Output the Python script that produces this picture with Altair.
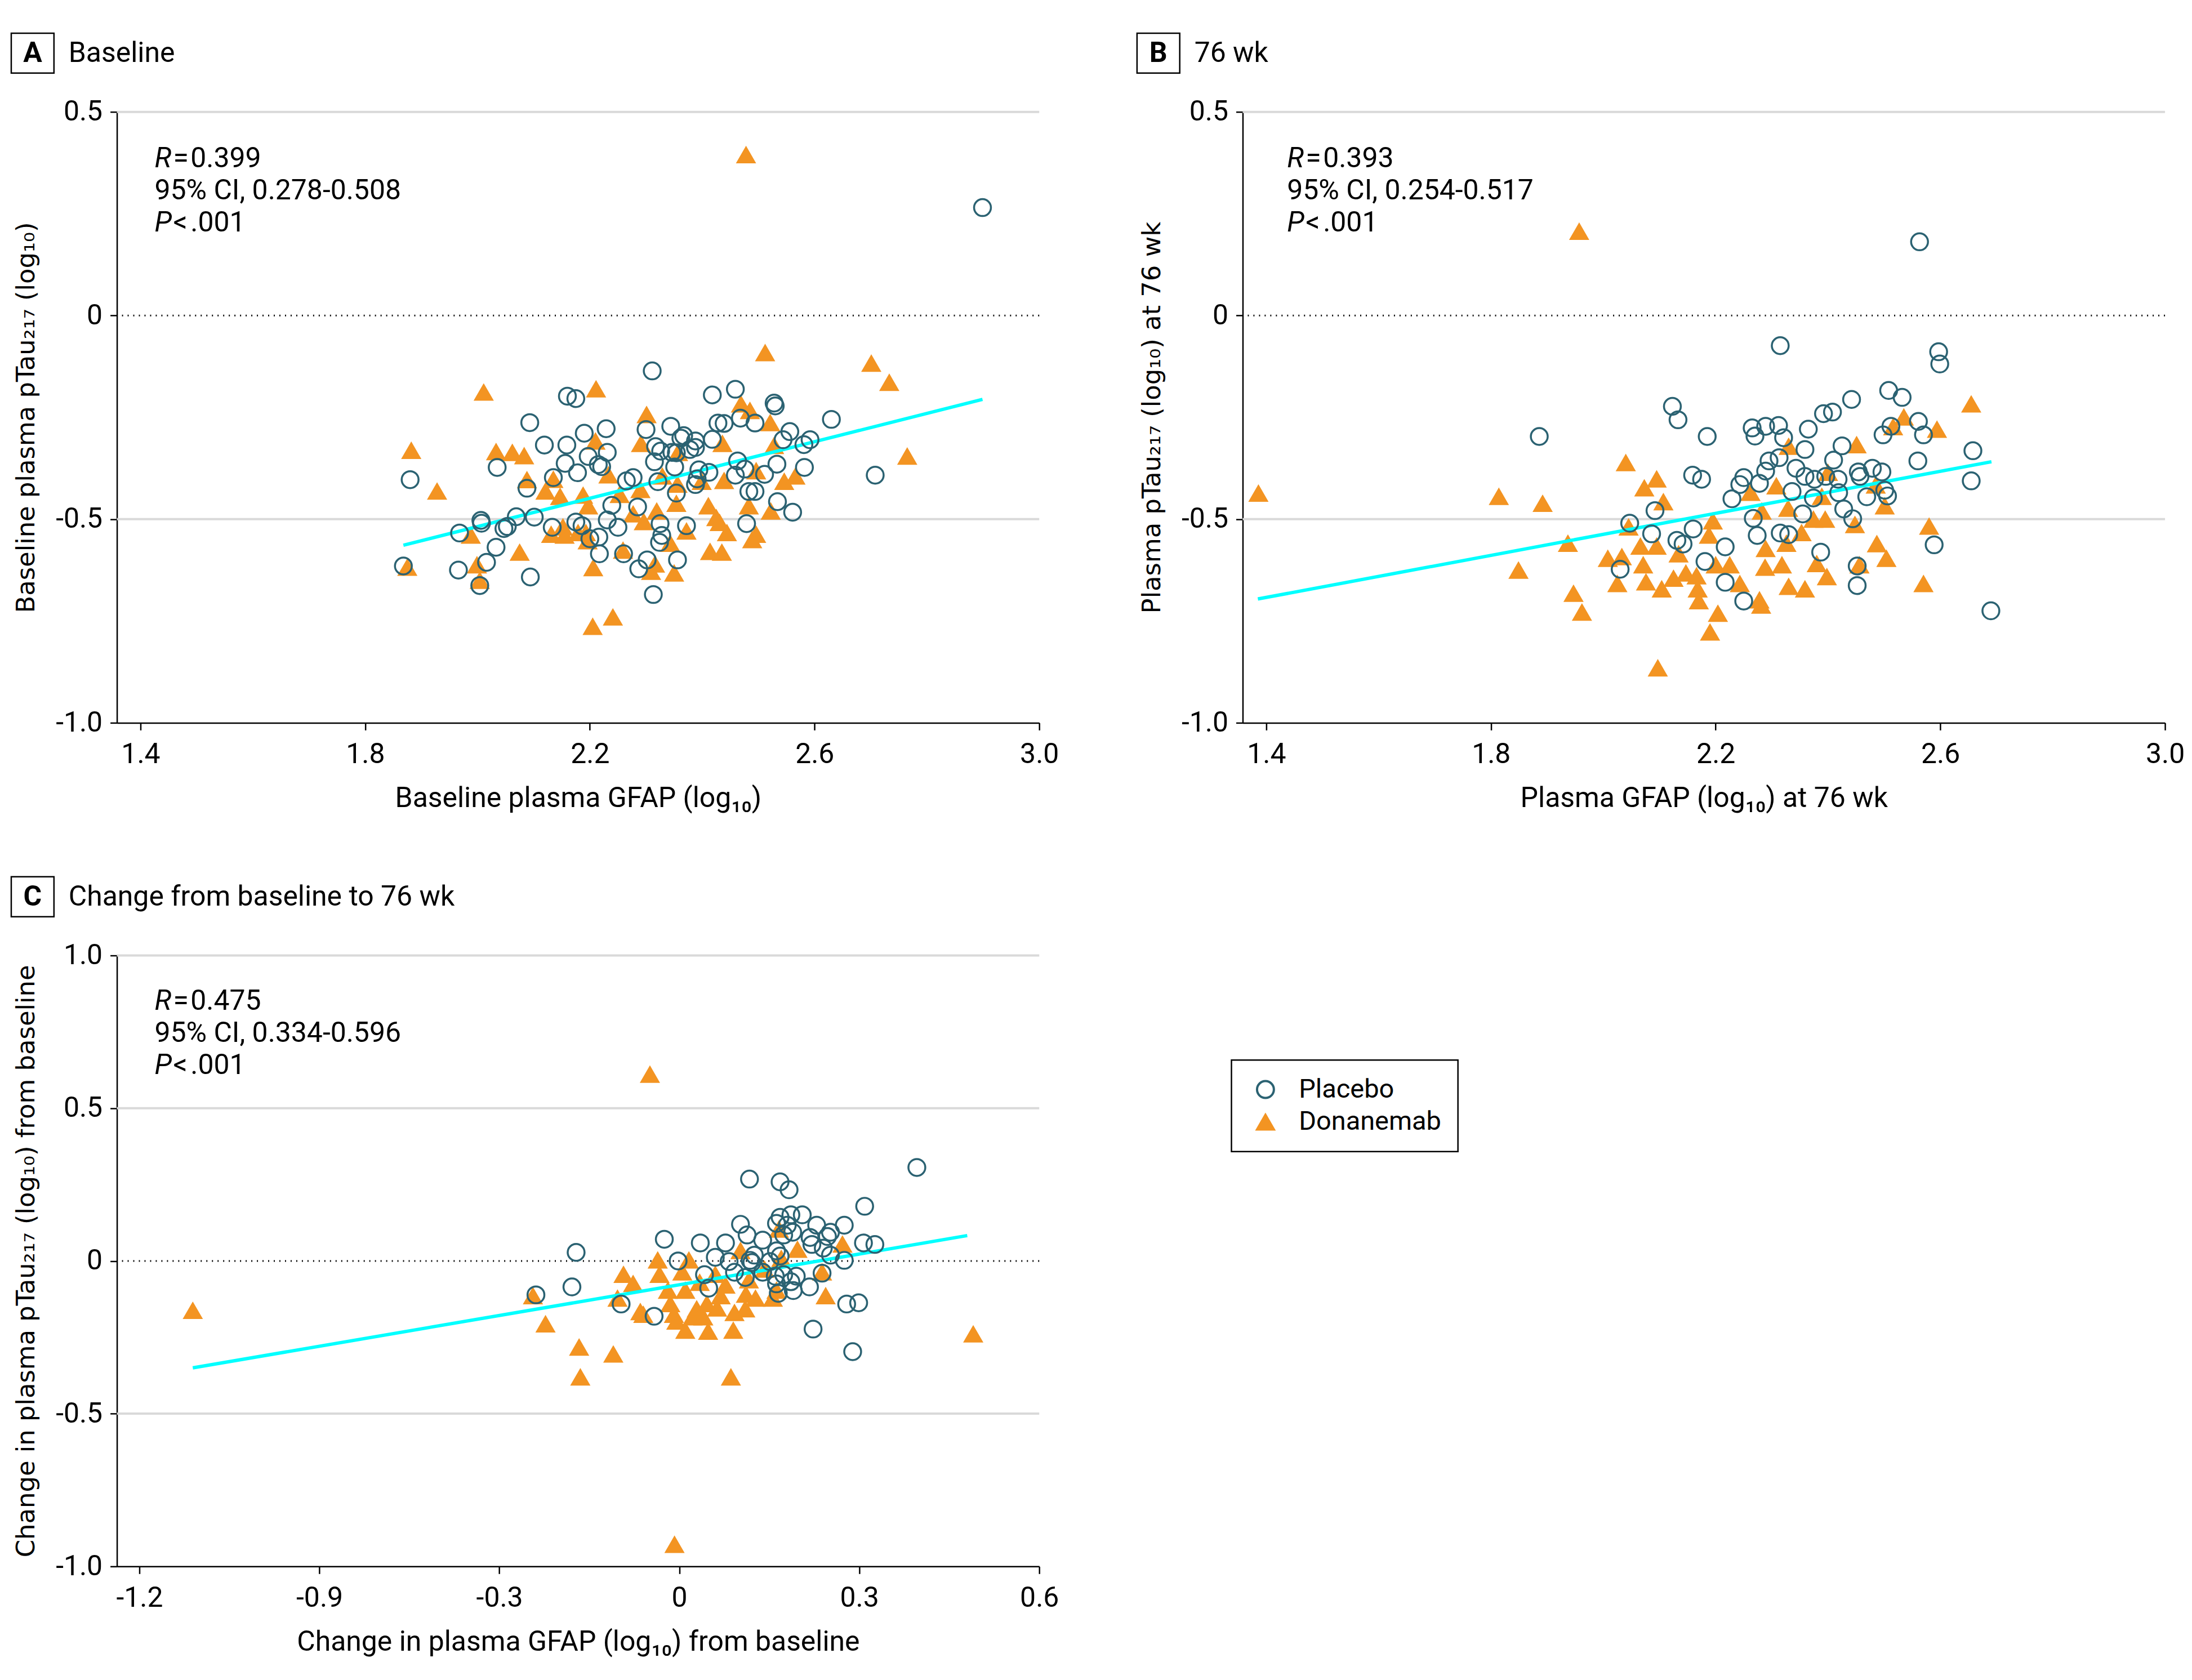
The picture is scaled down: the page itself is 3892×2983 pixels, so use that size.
import altair as alt
import pandas as pd

# ---------------- data ----------------
GROUPS = ["Placebo", "Donanemab"]
TEAL = "#2B6272"
ORANGE = "#F39422"
CYAN = "#00FFFF"
GRID = "#D9D9D9"

# Panel A: baseline
A_PLA_X = [2.899, 2.311, 2.160, 2.175, 2.418, 2.459, 2.528, 2.530, 2.093, 2.630, 2.428, 2.439, 2.468, 2.494,
           2.229, 2.190, 2.300, 2.344, 2.367, 2.362, 2.556, 2.592, 2.581, 2.544, 2.418, 2.388, 2.388, 2.317,
           2.326, 2.346, 2.378, 2.119, 2.159, 2.197, 2.231, 2.315, 2.354, 2.156, 2.215, 2.221, 2.035, 2.463,
           2.533, 2.582, 2.351, 2.394, 2.412, 2.476, 2.511, 2.459, 2.178, 2.135, 2.277, 2.265, 1.880, 2.708,
           2.391, 2.388, 2.321, 2.088, 2.483, 2.494, 2.354, 2.285, 2.239, 2.534, 2.561, 2.069, 2.101, 2.006,
           2.007, 1.968, 2.047, 2.053, 2.133, 2.175, 2.186, 2.231, 2.250, 2.325, 2.372, 2.479, 2.328, 2.324,
           2.216, 2.200, 2.217, 2.033, 2.016, 1.966, 1.868, 2.094, 2.004, 2.260, 2.287, 2.302, 2.356, 2.313]
A_PLA_Y = [0.265, -0.136, -0.198, -0.204, -0.195, -0.181, -0.215, -0.222, -0.263, -0.255, -0.264, -0.265,
           -0.252, -0.264, -0.278, -0.289, -0.280, -0.272, -0.295, -0.301, -0.285, -0.305, -0.317, -0.305,
           -0.304, -0.308, -0.324, -0.322, -0.333, -0.336, -0.329, -0.318, -0.318, -0.346, -0.336, -0.359,
           -0.337, -0.363, -0.366, -0.371, -0.373, -0.357, -0.365, -0.373, -0.372, -0.379, -0.385, -0.377,
           -0.390, -0.392, -0.386, -0.398, -0.398, -0.406, -0.403, -0.392, -0.401, -0.415, -0.408, -0.424,
           -0.432, -0.432, -0.436, -0.470, -0.466, -0.457, -0.483, -0.494, -0.495, -0.503, -0.510, -0.534,
           -0.523, -0.518, -0.520, -0.507, -0.516, -0.502, -0.520, -0.511, -0.516, -0.511, -0.540, -0.557,
           -0.544, -0.548, -0.585, -0.569, -0.606, -0.625, -0.615, -0.642, -0.663, -0.585, -0.622, -0.600,
           -0.600, -0.685]
A_DON_X = [2.478, 2.512, 2.701, 2.733, 2.211, 2.011, 2.765, 1.882, 2.033, 2.062, 2.083, 1.928, 2.301, 2.469,
           2.485, 2.521, 2.291, 2.210, 2.436, 2.528, 2.357, 2.233, 2.088, 2.135, 2.121, 2.147, 2.197, 2.253,
           2.290, 2.329, 2.356, 2.399, 2.439, 2.496, 2.546, 2.566, 2.354, 2.319, 2.411, 2.483, 2.522, 2.425,
           2.431, 2.444, 2.496, 2.489, 2.372, 2.343, 2.296, 2.277, 2.196, 2.193, 2.179, 2.155, 2.131, 1.988,
           2.075, 2.259, 2.414, 2.435, 2.206, 2.316, 2.309, 2.350, 1.999, 2.004, 1.875, 2.205, 2.241, 2.188,
           2.152]
A_DON_Y = [0.394, -0.092, -0.118, -0.165, -0.181, -0.189, -0.346, -0.332, -0.335, -0.337, -0.345, -0.432,
           -0.244, -0.218, -0.234, -0.264, -0.315, -0.309, -0.315, -0.320, -0.337, -0.392, -0.404, -0.403,
           -0.432, -0.445, -0.468, -0.440, -0.428, -0.395, -0.415, -0.408, -0.406, -0.382, -0.408, -0.395,
           -0.462, -0.481, -0.468, -0.468, -0.481, -0.497, -0.509, -0.534, -0.538, -0.551, -0.530, -0.560,
           -0.507, -0.488, -0.554, -0.534, -0.534, -0.540, -0.538, -0.540, -0.582, -0.577, -0.580, -0.582,
           -0.620, -0.611, -0.629, -0.633, -0.613, -0.651, -0.619, -0.764, -0.741, -0.442, -0.520]
A_FIT_X = [1.868, 2.899]
A_FIT_Y = [-0.564, -0.206]
A_STATS = ["0.399", "95% CI, 0.278-0.508", ".001"]

# Panel B: 76 wk
B_PLA_X = [2.563, 2.315, 2.597, 2.599, 1.886, 2.123, 2.133, 2.185, 2.508, 2.532, 2.442, 2.392, 2.408, 2.561,
           2.570, 2.498, 2.512, 2.265, 2.270, 2.289, 2.312, 2.321, 2.365, 2.359, 2.425, 2.658, 2.313, 2.295,
           2.410, 2.560, 2.159, 2.175, 2.250, 2.278, 2.289, 2.343, 2.359, 2.376, 2.396, 2.418, 2.454, 2.479,
           2.496, 2.457, 2.243, 2.655, 2.336, 2.419, 2.501, 2.506, 2.469, 2.229, 2.374, 2.428, 2.092, 2.355,
           2.444, 2.047, 2.267, 2.160, 2.315, 2.330, 2.274, 2.086, 2.131, 2.142, 2.217, 2.589, 2.387, 2.181,
           2.030, 2.452, 2.217, 2.452, 2.250, 2.690]
B_PLA_Y = [0.181, -0.074, -0.089, -0.119, -0.297, -0.223, -0.256, -0.297, -0.184, -0.201, -0.206, -0.241,
           -0.237, -0.260, -0.293, -0.293, -0.272, -0.276, -0.296, -0.272, -0.270, -0.300, -0.279, -0.329,
           -0.320, -0.332, -0.349, -0.357, -0.355, -0.357, -0.392, -0.402, -0.398, -0.412, -0.382, -0.375,
           -0.395, -0.402, -0.395, -0.402, -0.384, -0.375, -0.384, -0.395, -0.415, -0.406, -0.432, -0.435,
           -0.429, -0.443, -0.445, -0.450, -0.448, -0.475, -0.479, -0.487, -0.499, -0.510, -0.498, -0.524,
           -0.534, -0.538, -0.540, -0.536, -0.552, -0.561, -0.568, -0.563, -0.581, -0.604, -0.623, -0.615,
           -0.655, -0.663, -0.701, -0.725]
B_DON_X = [1.957, 1.386, 1.814, 1.892, 2.040, 1.849, 1.937, 1.947, 1.962, 2.097, 2.095, 2.073, 2.107, 2.045,
           2.008, 2.033, 2.025, 2.071, 2.066, 2.095, 2.076, 2.104, 2.125, 2.134, 2.147, 2.166, 2.168, 2.170,
           2.204, 2.190, 2.188, 2.195, 2.200, 2.225, 2.243, 2.278, 2.281, 2.288, 2.289, 2.318, 2.330, 2.359,
           2.353, 2.326, 2.329, 2.308, 2.330, 2.262, 2.282, 2.380, 2.398, 2.395, 2.389, 2.400, 2.448, 2.451,
           2.487, 2.504, 2.501, 2.535, 2.516, 2.594, 2.580, 2.570, 2.655, 2.456, 2.485, 2.374]
B_DON_Y = [0.206, -0.437, -0.445, -0.462, -0.362, -0.626, -0.560, -0.683, -0.729, -0.866, -0.402, -0.424,
           -0.458, -0.520, -0.597, -0.593, -0.659, -0.613, -0.567, -0.567, -0.655, -0.672, -0.646, -0.586,
           -0.633, -0.640, -0.672, -0.701, -0.732, -0.778, -0.540, -0.505, -0.613, -0.613, -0.659, -0.699,
           -0.712, -0.619, -0.573, -0.613, -0.666, -0.672, -0.534, -0.560, -0.474, -0.419, -0.322, -0.435,
           -0.481, -0.610, -0.642, -0.501, -0.445, -0.386, -0.514, -0.318, -0.561, -0.597, -0.468, -0.250,
           -0.274, -0.280, -0.518, -0.659, -0.218, -0.613, -0.417, -0.501]
B_FIT_X = [1.385, 2.691]
B_FIT_Y = [-0.696, -0.359]
B_STATS = ["0.393", "95% CI, 0.254-0.517", ".001"]

# Panel C: change from baseline to 76 wk
C_PLA_X = [0.396, 0.117, 0.168, 0.183, 0.309, 0.102, 0.168, 0.186, 0.205, 0.162, 0.180, 0.229, 0.275, 0.113,
           0.139, 0.189, 0.218, 0.252, 0.247, -0.025, 0.035, 0.077, 0.307, 0.326, 0.221, 0.240, 0.162, 0.125,
           0.060, 0.252, -0.172, -0.002, 0.083, 0.118, 0.121, 0.151, 0.168, 0.275, 0.092, 0.110, 0.139, 0.160,
           0.174, 0.195, 0.042, 0.238, 0.049, 0.162, 0.186, 0.217, 0.190, 0.165, -0.179, -0.239, -0.097,
           -0.042, 0.279, 0.299, 0.223, 0.289, 0.174]
C_PLA_Y = [0.306, 0.268, 0.259, 0.233, 0.179, 0.120, 0.143, 0.151, 0.151, 0.123, 0.117, 0.117, 0.117, 0.085,
           0.068, 0.094, 0.077, 0.094, 0.080, 0.071, 0.059, 0.059, 0.059, 0.054, 0.054, 0.042, 0.033, 0.019,
           0.012, 0.019, 0.028, 0.000, -0.002, 0.002, -0.005, -0.002, 0.016, 0.002, -0.037, -0.054, -0.037,
           -0.050, -0.045, -0.050, -0.045, -0.040, -0.089, -0.075, -0.068, -0.085, -0.097, -0.106, -0.085,
           -0.111, -0.141, -0.181, -0.141, -0.137, -0.223, -0.297, 0.085]
C_DON_X = [-0.049, -0.811, 0.490, -0.008, -0.223, -0.244, -0.167, -0.165, -0.110, 0.086, -0.093, -0.077,
           -0.036, -0.033, -0.103, -0.065, -0.060, -0.019, -0.015, -0.009, -0.005, 0.005, 0.010, 0.016, 0.022,
           0.029, 0.010, 0.040, 0.046, 0.048, 0.063, 0.069, 0.077, 0.092, 0.090, 0.102, 0.110, 0.111, 0.127,
           0.116, 0.156, 0.162, 0.170, 0.197, 0.238, 0.244, 0.272, 0.060, 0.034, 0.142, 0.166]
C_DON_Y = [0.610, -0.163, -0.240, -0.929, -0.207, -0.115, -0.283, -0.381, -0.306, -0.381, -0.045, -0.075,
           0.002, -0.045, -0.123, -0.167, -0.176, -0.097, -0.141, -0.176, -0.198, -0.037, -0.097, 0.002,
           -0.184, -0.158, -0.228, -0.184, -0.141, -0.231, -0.155, -0.115, -0.080, -0.170, -0.228, 0.033,
           -0.158, -0.110, -0.123, -0.063, -0.123, -0.097, 0.007, 0.037, -0.037, -0.115, 0.054, -0.045,
           -0.071, -0.028, 0.103]
C_FIT_X = [-0.811, 0.480]
C_FIT_Y = [-0.350, 0.083]
C_STATS = ["0.475", "95% CI, 0.334-0.596", ".001"]

# axis ticks and labels
AB_XTICK_VALUES = [1.4, 1.8, 2.2, 2.6, 3.0]
AB_XTICK_LABELS = ["1.4", "1.8", "2.2", "2.6", "3.0"]
AB_YTICK_VALUES = [-1.0, -0.5, 0.0, 0.5]
AB_YTICK_LABELS = ["-1.0", "-0.5", "0", "0.5"]
C_XTICK_VALUES = [-0.9, -0.6, -0.3, 0.0, 0.3, 0.6]
C_XTICK_LABELS = ["-1.2", "-0.9", "-0.3", "0", "0.3", "0.6"]
C_YTICK_VALUES = [-1.0, -0.5, 0.0, 0.5, 1.0]
C_YTICK_LABELS = ["-1.0", "-0.5", "0", "0.5", "1.0"]
AB_GRID = [0.5, -0.5]
C_GRID = [1.0, 0.5, -0.5]

# ---------------- style ----------------
COND = "Roboto, Liberation Sans, sans-serif"
WIDE = "DejaVu Sans, Noto Sans, sans-serif"
FS = 50
W, H = 1641, 1087


def label_expr(values, labels):
    expr = "''"
    for v, l in reversed(list(zip(values, labels))):
        expr = f"abs(datum.value - ({v})) < 1e-6 ? '{l}' : ({expr})"
    return expr


def make_df(px, py, dx, dy):
    d1 = pd.DataFrame({"x": dx, "y": dy, "group": "Donanemab"})
    d0 = pd.DataFrame({"x": px, "y": py, "group": "Placebo"})
    return pd.concat([d1, d0], ignore_index=True)


def text_layer(text, x, y, size=FS, font=COND, italic=False, bold=False, align="left"):
    return alt.Chart(pd.DataFrame({"t": [text]})).mark_text(
        align=align, baseline="middle", font=font, fontSize=size,
        fontStyle="italic" if italic else "normal",
        fontWeight="bold" if bold else "normal", color="black"
    ).encode(x=alt.value(x), y=alt.value(y), text="t:N")


LEGEND = alt.Legend(orient="none", legendX=1983, legendY=1687, title=None)


def panel(df, fit_x, fit_y, xdom, xvals, xlabs, ydom, yvals, ylabs, grid_vals,
          xtitle, ytitle, letter, ptitle, stats, ann_x, ann_y):
    xs = alt.Scale(domain=xdom, nice=False, zero=False)
    ys = alt.Scale(domain=ydom, nice=False, zero=False)
    xaxis = alt.Axis(values=xvals, labelExpr=label_expr(xvals, xlabs), title=xtitle,
                     titleX=W / 2, titleY=134, titleAlign="center", titleBaseline="middle",
                     titleFont=COND, titleFontSize=FS, titleFontWeight="normal",
                     tickSize=13, labelPadding=18, labelFlush=False, labelOverlap=False)
    yaxis = alt.Axis(values=yvals, labelExpr=label_expr(yvals, ylabs), title=ytitle,
                     titleX=-161, titleY=H / 2, titleAngle=-90, titleAlign="center",
                     titleBaseline="middle", titleFont=WIDE, titleFontSize=45,
                     titleFontWeight="normal", tickSize=12, labelPadding=14,
                     labelOverlap=False, labelFlush=False)
    X = alt.X("x:Q", scale=xs, axis=xaxis)
    Y = alt.Y("y:Q", scale=ys, axis=yaxis)

    grid = alt.Chart(pd.DataFrame({"y": grid_vals})).mark_rule(
        color=GRID, strokeWidth=4).encode(y=Y)
    zero = alt.Chart(pd.DataFrame({"y": [0.0]})).mark_rule(
        color="black", strokeWidth=3, strokeDash=[2, 8]).encode(y=Y)
    fit = alt.Chart(pd.DataFrame({"x": fit_x, "y": fit_y})).mark_line(
        color=CYAN, strokeWidth=6).encode(x=X, y=Y)

    enc = dict(
        x=X, y=Y,
        shape=alt.Shape("group:N", scale=alt.Scale(domain=GROUPS, range=["circle", "triangle-up"]), legend=LEGEND),
        fill=alt.Fill("group:N", scale=alt.Scale(domain=GROUPS, range=["transparent", ORANGE]), legend=LEGEND),
        stroke=alt.Stroke("group:N", scale=alt.Scale(domain=GROUPS, range=[TEAL, ORANGE]), legend=LEGEND),
    )
    pts_base = alt.Chart(df).mark_point(filled=False, opacity=1, size=900, strokeWidth=3.5)
    pts_d = pts_base.transform_filter(alt.datum.group == "Donanemab").encode(**enc)
    pts_p = pts_base.transform_filter(alt.datum.group == "Placebo").encode(**enc)

    box = alt.Chart(pd.DataFrame({"a": [0]})).mark_rect(
        fillOpacity=0, stroke="black", strokeWidth=2.5).encode(
        x=alt.value(-188), x2=alt.value(-112), y=alt.value(-140), y2=alt.value(-69))
    lay = [grid, zero, pts_d, fit, pts_p, box,
           text_layer(letter, -150, -104, bold=True, align="center"),
           text_layer(ptitle, -86, -104),
           text_layer("R", ann_x, ann_y, italic=True),
           text_layer("=", ann_x + 33, ann_y),
           text_layer(stats[0], ann_x + 64, ann_y),
           text_layer(stats[1], ann_x, ann_y + 57),
           text_layer("P", ann_x, ann_y + 114, italic=True),
           text_layer("<", ann_x + 33, ann_y + 114),
           text_layer(stats[2], ann_x + 64, ann_y + 114)]
    return alt.layer(*lay).properties(width=W, height=H)


pa = panel(make_df(A_PLA_X, A_PLA_Y, A_DON_X, A_DON_Y), A_FIT_X, A_FIT_Y,
           [1.358, 3.0], AB_XTICK_VALUES, AB_XTICK_LABELS, [-1.0, 0.5], AB_YTICK_VALUES, AB_YTICK_LABELS,
           AB_GRID, "Baseline plasma GFAP (log₁₀)", "Baseline plasma pTau₂₁₇ (log₁₀)",
           "A", "Baseline", A_STATS, 67, 84)
pb = panel(make_df(B_PLA_X, B_PLA_Y, B_DON_X, B_DON_Y), B_FIT_X, B_FIT_Y,
           [1.358, 3.0], AB_XTICK_VALUES, AB_XTICK_LABELS, [-1.0, 0.5], AB_YTICK_VALUES, AB_YTICK_LABELS,
           AB_GRID, "Plasma GFAP (log₁₀) at 76 wk", "Plasma pTau₂₁₇ (log₁₀) at 76 wk",
           "B", "76 wk", B_STATS, 79, 84)
pc = panel(make_df(C_PLA_X, C_PLA_Y, C_DON_X, C_DON_Y), C_FIT_X, C_FIT_Y,
           [-0.9375, 0.6], C_XTICK_VALUES, C_XTICK_LABELS, [-1.0, 1.0], C_YTICK_VALUES, C_YTICK_LABELS,
           C_GRID, "Change in plasma GFAP (log₁₀) from baseline",
           "Change in plasma pTau₂₁₇ (log₁₀) from baseline",
           "C", "Change from baseline to 76 wk", C_STATS, 67, 82)

chart = alt.concat(pa, pb, pc, columns=2, spacing={"row": 414, "column": 362}, bounds="flush").properties(
    padding={"left": 10, "top": 46, "right": 5, "bottom": 5}
).configure_view(stroke=None).configure_axis(
    domainColor="black", domainWidth=2.5, tickColor="black", tickWidth=2.5,
    labelFont=COND, labelFontSize=FS, labelColor="black", titleColor="black", grid=False
).configure_legend(
    strokeColor="black", strokeWidth=2.5, padding=29, labelFont=COND, labelFontSize=47,
    labelColor="black", symbolSize=900, symbolStrokeWidth=4, rowPadding=10, labelOffset=36,
    symbolOffset=8, labelLimit=0
)

chart.save("out.html", embed_options={"renderer": "svg", "actions": False})
